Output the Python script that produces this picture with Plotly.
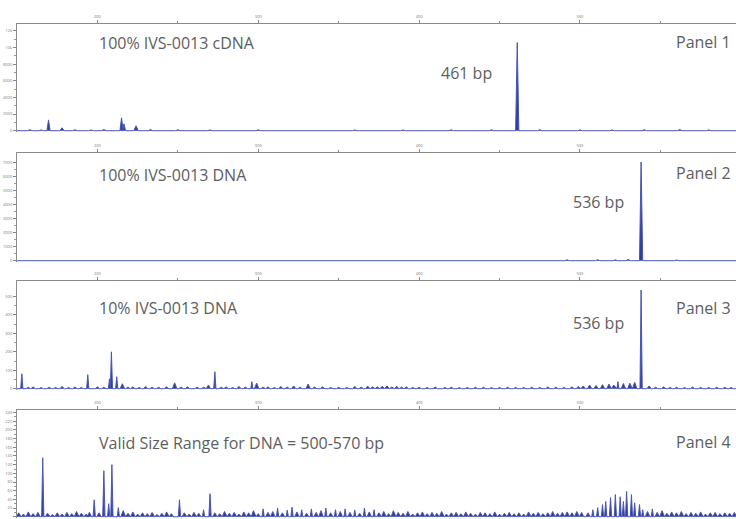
import plotly.graph_objects as go

# ---------------- data (size in bp, height in RFU) ----------------
x_range = [150, 597]
x_major = [200, 300, 400, 500]
x_major_labels = ["200", "300", "400", "500"]

# Panel 1 : 100% IVS-0013 cDNA
p1_sizes = [158, 165, 169.6, 178, 186, 196, 204, 215, 216.5, 224, 233, 250, 270, 300, 330, 360, 390, 420,
            445, 461, 475, 500, 520, 540, 562, 580]
p1_heights = [120, 100, 1300, 350, 120, 100, 150, 1550, 830, 600, 150, 120, 100, 110, 90, 100, 90, 110,
              120, 10600, 130, 110, 100, 120, 150, 100]
p1_ticks = [0, 2000, 4000, 6000, 8000, 10000, 12000]

# Panel 2 : 100% IVS-0013 DNA
p2_sizes = [170, 210, 260, 320, 380, 440, 492, 511, 522, 530, 538, 560, 585]
p2_heights = [40, 40, 30, 40, 30, 40, 60, 70, 60, 80, 7040, 50, 40]
p2_ticks = [0, 1000, 2000, 3000, 4000, 5000, 6000, 7000]

# Panel 3 : 10% IVS-0013 DNA
p3_sizes = [153, 157, 160, 165, 170, 174, 178, 182, 186, 190, 194, 200, 204, 207.5, 208.7, 212, 215.5,
            219, 222, 226, 230, 234, 238, 243, 248, 252, 256, 262, 266,
            269, 273, 277, 280, 284, 288, 292, 296, 299, 303, 306, 310, 314, 318, 322, 326, 331, 335,
            340, 345, 350, 355, 360, 364, 368, 371, 374, 377, 380, 383, 386, 389, 392, 396,
            400, 405, 410, 416, 420, 425, 430, 435, 440, 445, 450, 455, 460, 465, 470, 475, 480, 485,
            490, 495, 499, 502, 506, 510, 514, 518, 521, 523.6, 527, 531,
            534, 538, 543, 547, 552, 556, 560, 565, 570, 575, 580, 585, 590, 594]
p3_heights = [81, 8, 10, 6, 8, 7, 12, 6, 9, 7, 76, 10, 8, 54, 200, 65, 27,
              9, 10, 7, 12, 8, 8, 10, 32, 9, 10, 9, 8,
              20, 92, 8, 10, 7, 12, 9, 38, 30, 8, 10, 7, 12, 9, 15, 8, 25, 9,
              10, 7, 8, 6, 12, 9, 14, 10, 10, 13, 15, 9, 12, 8, 10, 7,
              8, 6, 9, 7, 8, 6, 7, 8, 8, 6, 7, 8, 7, 6, 8, 7, 9, 8,
              7, 10, 12, 15, 20, 18, 22, 25, 20, 38, 28, 30,
              35, 535, 15, 8, 10, 7, 8, 6, 9, 7, 7, 8, 8, 6]
p3_ticks = [0, 100, 200, 300, 400, 500]

# Panel 4 : Valid Size Range for DNA = 500-570 bp
p4_sizes = [151, 154, 157, 160, 163, 166, 169, 172, 175, 178, 181, 184, 187, 190, 193, 195, 198, 201, 204,
            207, 209, 213, 216, 219, 222, 225, 228, 231, 234, 237, 240, 243, 246, 251, 254, 257, 260,
            263, 266, 270, 273, 276, 279, 282, 285, 288, 291, 294, 297, 300, 303, 306, 309, 312, 315,
            318, 321, 324, 327, 330, 333, 336, 339, 342, 345, 348, 351, 354, 357, 360, 363, 366, 369,
            372, 375, 378, 381, 384, 387, 390, 393, 396, 399, 402, 405, 408, 411, 414, 417, 420, 423,
            426, 429, 432, 435, 438, 441, 444, 447, 450, 453, 456, 459, 462, 465, 468, 471, 474, 477,
            480, 483, 486, 489, 492, 495, 498, 501,
            505, 508, 511, 514, 516, 519, 522, 525, 527, 529, 532, 534, 537, 539, 542,
            545, 548, 551, 554, 557, 560, 563, 566, 569, 572, 575, 578, 581, 584, 587, 590, 593, 596]
p4_heights = [9, 6, 11, 7, 10, 136, 8, 5, 9, 6, 10, 7, 12, 8, 6, 10, 39, 9, 106,
              30, 120, 21, 14, 8, 11, 6, 9, 7, 10, 5, 8, 11, 7, 39, 9, 6, 10,
              8, 16, 53, 9, 7, 12, 8, 10, 6, 11, 9, 14, 7, 18, 10, 12, 20, 9,
              15, 22, 11, 16, 8, 18, 10, 14, 20, 9, 16, 12, 18, 10, 15, 8, 20, 11,
              16, 9, 12, 7, 14, 10, 8, 12, 6, 9, 11, 7, 10, 8, 12, 6, 9, 10,
              7, 11, 8, 6, 10, 9, 7, 11, 6, 8, 10, 7, 9, 6, 11, 8, 10, 7,
              9, 12, 8, 10, 11, 9, 12, 10,
              9, 16, 21, 28, 35, 44, 51, 46, 35, 58, 51, 32, 28, 16, 12,
              18, 10, 14, 8, 11, 9, 12, 7, 10, 8, 11, 6, 9, 10, 7, 9, 8, 10]
p4_ticks = [0, 20, 40, 60, 80, 100, 120, 140, 160, 180, 200, 220, 240]

panels = [
    dict(sizes=p1_sizes, heights=p1_heights, ticks=p1_ticks, ymax=12830, w=1.0, wn=1.4,
         top=24, bottom=132, title="100% IVS-0013 cDNA", title_y=43,
         bp="461 bp", bp_x=493, bp_y=73, name="Panel 1", name_y=42),
    dict(sizes=p2_sizes, heights=p2_heights, ticks=p2_ticks, ymax=7680, w=1.0, wn=1.4,
         top=153, bottom=262, title="100% IVS-0013 DNA", title_y=175,
         bp="536 bp", bp_x=625, bp_y=202, name="Panel 2", name_y=173),
    dict(sizes=p3_sizes, heights=p3_heights, ticks=p3_ticks, ymax=584, w=0.7, wn=1.4,
         top=281, bottom=390, title="10% IVS-0013 DNA", title_y=308,
         bp="536 bp", bp_x=625, bp_y=323, name="Panel 3", name_y=308),
    dict(sizes=p4_sizes, heights=p4_heights, ticks=p4_ticks, ymax=246, w=0.7, wn=1.4,
         top=410, bottom=518, title="Valid Size Range for DNA = 500-570 bp", title_y=443,
         bp=None, bp_x=0, bp_y=0, name="Panel 4", name_y=442),
]

W, H = 736, 519
LEFT = 17


def px(x):
    return x / W


def py(y):
    return (H - y) / H


fig = go.Figure()
annotations = []
text_font = dict(family="Open Sans", size=16, color="#5e5e5e")

for i, p in enumerate(panels, start=1):
    xs, ys = [x_range[0]], [0]
    for s, h in sorted(zip(p["sizes"], p["heights"])):
        # small baseline-noise bumps are drawn a little broader than true peaks
        w = p["wn"] if h < 0.06 * p["ymax"] else p["w"]
        xs += [s - w, s, s + w]
        ys += [0, h, 0]
    xs.append(x_range[1])
    ys.append(0)
    xa = "x" if i == 1 else f"x{i}"
    ya = "y" if i == 1 else f"y{i}"
    fig.add_trace(go.Scatter(x=xs, y=ys, mode="lines", xaxis=xa, yaxis=ya,
                             line=dict(color="#4a56b4", width=1),
                             fill="tozeroy", fillcolor="#2f3c9c",
                             showlegend=False, hoverinfo="skip"))
    dom_y = [max(py(p["bottom"]), 0), min(py(p["top"]), 1)]
    xkey = "xaxis" if i == 1 else f"xaxis{i}"
    ykey = "yaxis" if i == 1 else f"yaxis{i}"
    fig.update_layout({
        xkey: dict(domain=[px(LEFT), 1], range=x_range, anchor=ya, side="top",
                   tickvals=x_major, ticktext=x_major_labels,
                   ticks="outside", ticklen=3, tickcolor="#888", tickwidth=1,
                   tickfont=dict(size=4, color="#777"),
                   minor=dict(tickvals=[250, 350, 450, 550], ticks="outside", ticklen=2,
                              tickcolor="#888"),
                   showline=True, linecolor="#8a8a8a", linewidth=1,
                   showgrid=False, zeroline=False, fixedrange=True),
        ykey: dict(domain=dom_y, range=[-p["ymax"] * 0.012, p["ymax"]], anchor=xa,
                   tickvals=p["ticks"], ticks="outside", ticklen=3, tickcolor="#888",
                   tickfont=dict(size=4, color="#777"),
                   minor=dict(ticks="outside", ticklen=2, tickcolor="#999",
                              tickvals=[(a + b) / 2 for a, b in zip(p["ticks"][:-1], p["ticks"][1:])]),
                   showline=True, linecolor="#8a8a8a", linewidth=1,
                   showgrid=False, zeroline=False, fixedrange=True),
    })
    annotations.append(dict(x=px(97), y=py(p["title_y"]), xref="paper", yref="paper",
                            text=p["title"], showarrow=False, xanchor="left",
                            yanchor="middle", font=text_font))
    annotations.append(dict(x=px(733), y=py(p["name_y"]), xref="paper", yref="paper",
                            text=p["name"], showarrow=False, xanchor="right",
                            yanchor="middle", font=text_font))
    if p["bp"]:
        annotations.append(dict(x=px(p["bp_x"] + 1), y=py(p["bp_y"]), xref="paper", yref="paper",
                                text=p["bp"], showarrow=False, xanchor="right",
                                yanchor="middle", font=text_font))

fig.update_layout(width=W, height=H, margin=dict(l=0, r=0, t=0, b=0),
                  paper_bgcolor="white", plot_bgcolor="white",
                  annotations=annotations)

# remove the browser's default page margin so the 736x519 figure fills the window
fig.write_html("out.html",
               config={"displayModeBar": False},
               post_script="document.body.style.margin='0px';"
                           "document.body.style.overflow='hidden';")
